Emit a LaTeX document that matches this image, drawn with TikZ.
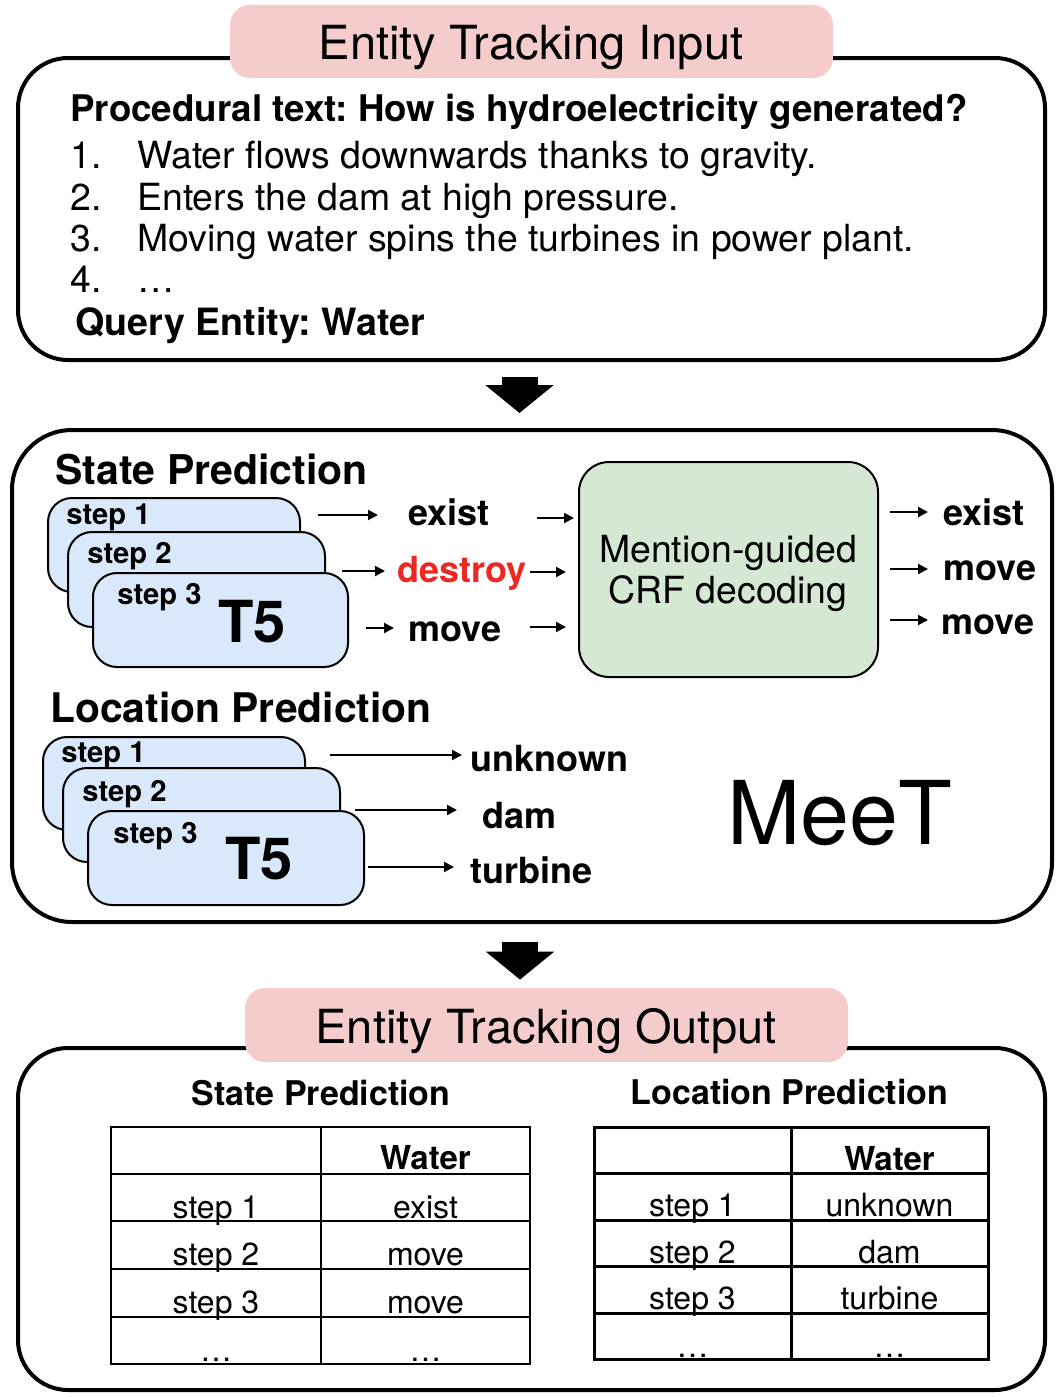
\documentclass[tikz,border=0pt]{standalone}
\usepackage{fontspec}
\setmainfont{TeX Gyre Heros}
\usetikzlibrary{arrows.meta,fit}
\definecolor{pinkT}{RGB}{244,204,204}
\definecolor{blueS}{RGB}{218,232,252}
\definecolor{greenC}{RGB}{213,232,212}
\definecolor{redD}{RGB}{236,40,36}
\newcommand\fsz[1]{\fontsize{#1}{#1}\selectfont}
\frenchspacing
\begin{document}
\begin{tikzpicture}[x=0.5pt,y=-0.5pt,
  txt/.style={inner sep=0pt, anchor=base west},
  ctxt/.style={inner sep=0pt, anchor=base},
  bigbox/.style={draw, line width=2pt, inner sep=0pt, rounded corners=#1},
  titlebox/.style={fill=pinkT, inner sep=0pt, rounded corners=10pt},
  stepbox/.style={draw, fill=blueS, line width=1pt, inner sep=0pt, rounded corners=12pt},
  crfbox/.style={draw, fill=greenC, line width=1pt, inner sep=0pt, rounded corners=15pt},
  arr/.style={line width=1pt, -{Triangle[length=5pt,width=5pt]}},
  blockarr/.style={line width=18pt, -{Triangle[length=14pt,width=33.5pt]}},
  gridA/.style={line width=1pt},
  gridB/.style={line width=1.5pt},
  body/.style={font=\fsz{18.7}},
  bbody/.style={font=\fsz{18.35}\bfseries},
  steplab/.style={txt, font=\fsz{14.6}\bfseries},
  tfive/.style={txt, font=\fsz{29}\bfseries},
  outlab/.style={txt, font=\fsz{18}\bfseries},
  tabtxt/.style={ctxt, font=\fsz{16}},
  tabhead/.style={ctxt, font=\fsz{16.5}\bfseries},
]
\useasboundingbox (0,0) rectangle (1064,1398);

% ---------- Input ----------
\node[bigbox=25pt, fit={(18,58)(1045,360)}] (inbox) {};
\node[titlebox, fit={(230,5)(833,78)}] (intitle) {};
\node[ctxt, font=\fsz{23.5}] (intitleT) at (531,59) {Entity Tracking Input};
\node[txt, bbody] (ptext) at (70,121) {Procedural text: How is hydroelectricity generated?};
\node[txt, body] (l1) at (70,168) {\makebox[33.5pt][l]{1.}Water flows downwards thanks to gravity.};
\node[txt, body] (l2) at (70,210) {\makebox[33.5pt][l]{2.}Enters the dam at high pressure.};
\node[txt, body] (l3) at (70,251) {\makebox[33.5pt][l]{3.}Moving water spins the turbines in power plant.};
\node[txt, body] (l4) at (70,292) {\makebox[33.5pt][l]{4.}\dots};
\node[txt, font=\fsz{18.8}\bfseries] (qe) at (75,335) {Query Entity: Water};

% ---------- Model ----------
\node[bigbox=30pt, fit={(12,430)(1052,922)}] (midbox) {};
\coordinate (ba1) at ([xshift=-6pt,yshift=-7.5pt]inbox.south);
\coordinate (bt1) at ([yshift=7.5pt]midbox.north);
\draw[blockarr] (ba1) -- (ba1 |- bt1);

\node[txt, font=\fsz{20.5}\bfseries] (sp) at (55,484) {State Prediction};
\node[stepbox, fit={(48,498)(300,592)}] (sb1) {};
\node[steplab] (sl1) at (66,524) {step 1};
\node[stepbox, fit={(68,532)(325,627)}] (sb2) {};
\node[steplab] (sl2) at (87,563) {step 2};
\node[stepbox, fit={(93,573)(348,667)}] (sb3) {};
\node[steplab] (sl3) at (117,604) {step 3};
\node[tfive] (st5) at (218,642) {T5};

\node[outlab] (ex1) at (408,525) {exist};
\node[outlab, text=redD] (de1) at (397,582) {destroy};
\node[outlab] (mo1) at (408,641) {move};

\coordinate (sa1) at (318,515);
\coordinate (sa2) at (342,571);
\coordinate (sa3) at (366,628);
\draw[arr, shorten >=15pt] (sa1) -- (sa1 -| ex1.west);
\draw[arr, shorten >=6pt] (sa2) -- (sa2 -| de1.west);
\draw[arr, shorten >=7pt] (sa3) -- (sa3 -| mo1.west);

\node[crfbox, fit={(579,462)(878,677)}] (crf) {};
\node[ctxt, body] (crf1) at (728,562) {Mention-guided};
\node[ctxt, body] (crf2) at (728,603) {CRF decoding};

\coordinate (ci1) at (537,518);
\coordinate (ci2) at (530,572);
\coordinate (ci3) at (530,627);
\draw[arr, shorten >=2pt] (ci1) -- (ci1 -| crf.west);
\draw[arr, shorten >=6pt] (ci2) -- (ci2 -| crf.west);
\draw[arr, shorten >=6pt] (ci3) -- (ci3 -| crf.west);

\node[outlab] (ex2) at (943,525) {exist};
\node[outlab] (mo2) at (943,580) {move};
\node[outlab] (mo3) at (941,634) {move};
\coordinate (co1) at (890,512);
\coordinate (co2) at (890,569);
\coordinate (co3) at (890,620);
\draw[arr, shorten >=7.5pt] (co1) -- (co1 -| ex2.west);
\draw[arr, shorten >=7.5pt] (co2) -- (co2 -| mo2.west);
\draw[arr, shorten >=6.5pt] (co3) -- (co3 -| mo3.west);

\node[txt, font=\fsz{20.4}\bfseries] (lp) at (50,722) {Location Prediction};
\node[stepbox, fit={(43,737)(305,830)}] (lb1) {};
\node[steplab] (ll1) at (61,762) {step 1};
\node[stepbox, fit={(63,768)(340,862)}] (lb2) {};
\node[steplab] (ll2) at (82,801) {step 2};
\node[stepbox, fit={(88,811)(364,905)}] (lb3) {};
\node[steplab] (ll3) at (113,843) {step 3};
\node[tfive] (lt5) at (225,879) {T5};

\node[outlab] (unk) at (470,771) {unknown};
\node[outlab] (dam) at (482,828) {dam};
\node[outlab] (tur) at (470,883) {turbine};
\coordinate (la1) at (330,755);
\coordinate (la2) at (355,810);
\coordinate (la3) at (368,867);
\draw[arr, shorten >=4pt] (la1) -- (la1 -| unk.west);
\draw[arr, shorten >=12.5pt] (la2) -- (la2 -| dam.west);
\draw[arr, shorten >=8pt] (la3) -- (la3 -| tur.west);

\node[txt, font=\fsz{44}] (meet) at (727,844) {MeeT};

% ---------- Output ----------
\node[bigbox=25pt, fit={(18,1048)(1045,1390)}] (outbox) {};
\node[titlebox, fit={(245,988)(848,1062)}] (outtitle) {};
\node[ctxt, font=\fsz{23.5}] (outtitleT) at (546,1043) {Entity Tracking Output};
\coordinate (ba2) at ([xshift=-6pt,yshift=-9pt]midbox.south);
\coordinate (bt2) at ([yshift=4pt]outtitle.north);
\draw[blockarr] (ba2) -- (ba2 |- bt2);

\node[ctxt, font=\fsz{17}\bfseries] (osp) at (321,1105) {State Prediction};
\node[ctxt, font=\fsz{17}\bfseries] (olp) at (789.5,1104) {Location Prediction};

% state table
\node[tabhead] (tw1) at (425.5,1169) {Water};
\node[tabtxt] (ta1) at (216,1218) {step 1};
\node[tabtxt] (tb1) at (425.5,1218) {exist};
\node[tabtxt] (ta2) at (216,1265) {step 2};
\node[tabtxt] (tb2) at (425.5,1265) {move};
\node[tabtxt] (ta3) at (216,1313) {step 3};
\node[tabtxt] (tb3) at (425.5,1313) {move};
\node[tabtxt] (ta4) at (216,1361) {\dots};
\node[tabtxt] (tb4) at (425.5,1361) {\dots};
\draw[gridA] (111,1127) rectangle (530,1364);
\draw[gridA] (321,1127) -- (321,1364);
\foreach \yy in {1174,1221,1269,1317} \draw[gridA] (111,\yy) -- (530,\yy);

% location table
\node[tabhead] (uw1) at (889.5,1170) {Water};
\node[tabtxt] (ua1) at (692.5,1216) {step 1};
\node[tabtxt] (ub1) at (889.5,1216) {unknown};
\node[tabtxt] (ua2) at (692.5,1263) {step 2};
\node[tabtxt] (ub2) at (889.5,1263) {dam};
\node[tabtxt] (ua3) at (692.5,1309) {step 3};
\node[tabtxt] (ub3) at (889.5,1309) {turbine};
\node[tabtxt] (ua4) at (692.5,1357) {\dots};
\node[tabtxt] (ub4) at (889.5,1357) {\dots};
\draw[gridB] (594,1127) rectangle (988,1359);
\draw[gridB] (791,1127) -- (791,1359);
\foreach \yy in {1173,1220,1266,1313} \draw[gridB] (594,\yy) -- (988,\yy);
\end{tikzpicture}
\end{document}
